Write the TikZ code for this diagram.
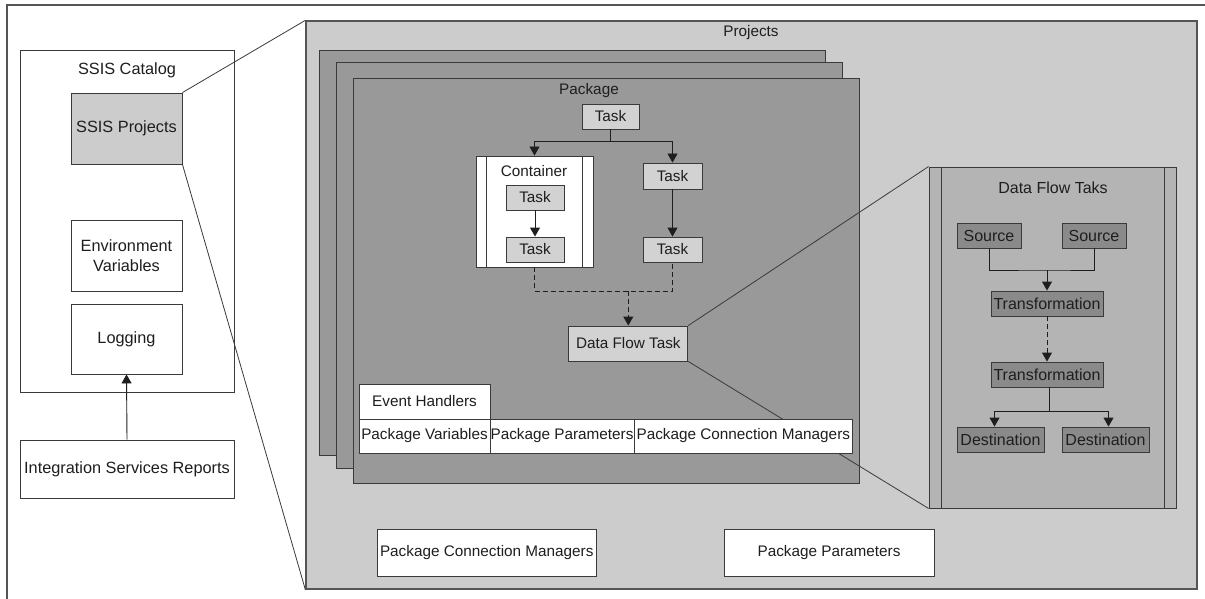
\documentclass[tikz,border=0pt]{standalone}
\usepackage{fontspec}
\setmainfont{Liberation Sans}
\usetikzlibrary{arrows.meta,calc}
\definecolor{bord}{HTML}{3A3A3A}
\definecolor{frame}{HTML}{555555}
\definecolor{projfill}{HTML}{CCCCCC}
\definecolor{pagefill}{HTML}{999999}
\definecolor{taskfill}{HTML}{D2D2D2}
\definecolor{dffill}{HTML}{B4B4B4}
\definecolor{dfnode}{HTML}{8A8A8A}
\definecolor{txt}{HTML}{1E1E1E}
\begin{document}
\begin{tikzpicture}[x=1pt,y=-1pt,
  every node/.style={text=txt},
  bx/.style={draw=bord,line width=0.9pt,rectangle,inner sep=0pt,align=center},
  fL/.style={font=\fontsize{16.3}{20}\selectfont},
  fP/.style={font=\fontsize{15.3}{18}\selectfont},
  fD/.style={font=\fontsize{16}{19}\selectfont},
  lbl/.style={inner sep=0pt},
  wbox/.style={bx,fill=white},
  task/.style={bx,fill=taskfill,fP},
  dfn/.style={bx,fill=dfnode,fD},
  conn/.style={draw=txt,line width=0.9pt},
  arr/.style={conn,-{Triangle[width=10pt,length=9pt]}},
  dsh/.style={dash pattern=on 5pt off 3pt},
  zoomline/.style={draw=bord,line width=0.8pt}
]
\useasboundingbox (0,0) rectangle (1205,599);
% outer frame (cut by the picture edges)
\draw[frame,line width=1.3pt] (1205,5) -- (7,5) -- (7,599);

% ---------- left panel ----------
\node[wbox,minimum width=214pt,minimum height=342pt] (catalog) at (127,221) {};
\node[lbl,fL] (catlbl) at (127,70) {SSIS Catalog};
\node[bx,fill=projfill,fL,minimum width=111pt,minimum height=71pt] (ssisproj) at (126.5,128.5) {SSIS Projects};
\node[wbox,fL,minimum width=111pt,minimum height=71pt] (envvars) at (126.5,255.5) {Environment\\Variables};
\node[wbox,fL,minimum width=111pt,minimum height=70pt] (logging) at (126.5,339) {Logging};
\node[wbox,fL,minimum width=214pt,minimum height=58pt] (isreports) at (127,469) {Integration Services Reports};
\draw[arr] (isreports.north) -- (logging.south);

% ---------- projects ----------
\node[draw=frame,line width=1.3pt,fill=projfill,rectangle,inner sep=0pt,minimum width=891pt,minimum height=568pt] (projects) at (751.5,305) {};
\node[lbl,fP] (projlbl) at (751,33) {Projects};
\draw[zoomline] (ssisproj.north east) -- (projects.north west);
\draw[zoomline] (ssisproj.south east) -- (projects.south west);

% package pages
\node[bx,fill=pagefill,minimum width=506pt,minimum height=405pt] (page1) at (572,252.5) {};
\node[bx,fill=pagefill,minimum width=506pt,minimum height=406pt] (page2) at (589,265) {};
\node[bx,fill=pagefill,minimum width=506pt,minimum height=405pt] (page3) at (606,280.5) {};
\node[lbl,fP] (pkglbl) at (589,91) {Package};

% tasks
\node[task,minimum width=57pt,minimum height=25pt] (task0) at (610.5,116.5) {Task};
\node[wbox,minimum width=117pt,minimum height=111pt] (container) at (534.5,211.5) {};
\draw[bord,line width=0.9pt] ([xshift=11pt]container.north west) -- ([xshift=11pt]container.south west);
\draw[bord,line width=0.9pt] ([xshift=-11pt]container.north east) -- ([xshift=-11pt]container.south east);
\node[lbl,fP] (contlbl) at (534,171) {Container};
\node[task,minimum width=58pt,minimum height=25pt] (ctask1) at (535,197.5) {Task};
\node[task,minimum width=58pt,minimum height=25pt] (ctask2) at (535,249.5) {Task};
\node[task,minimum width=59pt,minimum height=26pt] (rtask1) at (672.5,176) {Task};
\node[task,minimum width=59pt,minimum height=25pt] (rtask2) at (672.5,249.5) {Task};
\node[task,minimum width=119pt,minimum height=35pt] (dft) at (628.3,343.5) {Data Flow Task};

\coordinate (j0) at (610.5,141);
\draw[conn] (task0.south) -- (j0);
\draw[arr] (j0) -| (container.north);
\draw[arr] (j0) -| (rtask1.north);
\draw[arr] (ctask1.south) -- (ctask2.north);
\draw[arr] (rtask1.south) -- (rtask2.north);
\coordinate (j1) at (628.3,291);
\draw[conn,dsh] (container.south) |- (j1) -| (rtask2.south);
\draw[arr,dsh] (j1) -- (dft.north);

% ---------- data flow panel ----------
\node[bx,fill=dffill,minimum width=247pt,minimum height=341pt] (dfpanel) at (1052.5,337.5) {};
\draw[bord,line width=0.9pt] ([xshift=13pt]dfpanel.north west) -- ([xshift=13pt]dfpanel.south west);
\draw[bord,line width=0.9pt] ([xshift=-12pt]dfpanel.north east) -- ([xshift=-12pt]dfpanel.south east);
\node[lbl,fD] (dflbl) at (1053,188) {Data Flow Taks};
\node[dfn,minimum width=64pt,minimum height=25pt] (src1) at (989,235.5) {Source};
\node[dfn,minimum width=64pt,minimum height=25pt] (src2) at (1094,235.5) {Source};
\node[dfn,minimum width=112pt,minimum height=25pt] (tr1) at (1047,303.5) {Transformation};
\node[dfn,minimum width=112pt,minimum height=25pt] (tr2) at (1047,374.5) {Transformation};
\node[dfn,minimum width=87pt,minimum height=25pt] (dst1) at (1000.5,439.5) {Destination};
\node[dfn,minimum width=87pt,minimum height=25pt] (dst2) at (1105.5,439.5) {Destination};
\coordinate (j2) at (1047,270);
\draw[conn] (src1.south) |- (j2) -| (src2.south);
\draw[arr] (j2) -- (tr1.north);
\draw[arr,dsh] (tr1.south) -- (tr2.north);
\coordinate (j3) at (1049,411);
\draw[conn] (tr2.south -| j3) -- (j3);
\draw[arr] (j3) -| ([xshift=-6pt]dst1.north);
\draw[arr] (j3) -| ([xshift=3pt]dst2.north);

% zoom lines from Data Flow Task
\draw[zoomline] (dft.north east) -- (dfpanel.north west);
\draw[zoomline] (dft.south east) -- (dfpanel.south west);

% package bottom row
\node[wbox,fP,minimum width=131pt,minimum height=35pt] (evh) at (424.5,401.5) {Event Handlers};
\node[wbox,fP,minimum width=131pt,minimum height=34pt] (pvars) at (424.5,436) {Package Variables};
\node[wbox,fP,minimum width=144pt,minimum height=34pt] (pparams) at (562,436) {Package Parameters};
\node[wbox,fP,minimum width=218.6pt,minimum height=34pt] (pcm) at (743.3,436) {Package Connection Managers};

% project level
\node[wbox,fP,minimum width=219.5pt,minimum height=47pt] (bpcm) at (486.75,552.5) {Package Connection Managers};
\node[wbox,fP,minimum width=210pt,minimum height=47pt] (bpp) at (829,552.5) {Package Parameters};
\end{tikzpicture}
\end{document}
